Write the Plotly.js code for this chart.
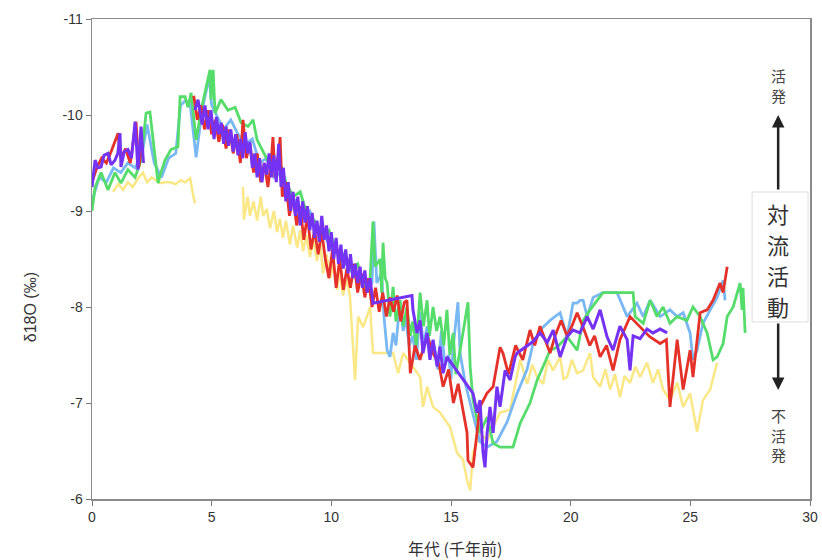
<!DOCTYPE html>
<html>
<head>
<meta charset="utf-8">
<script src="https://cdn.plot.ly/plotly-3.0.1.min.js"></script>
<style>html,body{margin:0;padding:0;background:#fff;}#chart{width:822px;height:560px;}</style>
</head>
<body>
<div id="chart"></div>
<script>
// ---- data (age in kyr BP, δ18O in ‰) ----
const yellowX = [0.88,1.1,1.3,1.5,1.7,1.9,2.13,2.3,2.5,2.84,3.05,3.26,3.5,3.7,3.89,4.1,4.2,4.3,null,
  6.31,6.35,6.5,6.6,6.75,6.9,7.05,7.15,7.3,7.44,
  7.6,7.73,7.85,7.98,8.1,8.27,8.4,8.57,8.7,8.82,
  8.95,9.11,9.25,9.4,9.55,9.65,9.8,9.95,10.1,10.24,
  10.35,10.49,10.65,10.78,10.99,11.12,
  11.33,11.62,11.74,12.04,12.58,12.79,13.0,13.29,13.71,13.83,
  14.0,14.25,14.54,14.96,15.25,15.5,15.67,15.8,15.92,16.21,
  16.51,16.76,17.05,17.47,17.89,18.18,18.4,18.6,18.85,19.05,19.26,19.56,
  19.7,19.85,20.05,20.27,20.52,20.81,20.94,21.23,21.45,21.65,21.85,22.06,22.25,22.48,22.7,22.9,
  23.19,23.44,23.65,23.86,24.15,24.45,24.7,24.99,25.28,25.53,25.83,26.12];
const yellowY = [-9.2,-9.28,-9.22,-9.3,-9.25,-9.33,-9.4,-9.3,-9.35,-9.29,-9.3,-9.3,-9.28,-9.32,-9.3,-9.34,-9.2,-9.08,null,
  -9.25,-8.91,-9.15,-8.95,-9.1,-8.9,-9.15,-8.95,-9.02,-8.82,
  -9.0,-8.78,-8.92,-8.72,-8.9,-8.65,-8.85,-8.62,-8.8,-8.58,
  -8.75,-8.52,-8.7,-8.48,-8.65,-8.35,-8.55,-8.3,-8.45,-8.18,
  -8.38,-8.12,-8.3,-8.1,-7.24,-7.9,
  -7.79,-8.0,-7.52,-7.52,-7.52,-7.31,-7.52,-7.42,-7.27,-6.96,
  -7.17,-6.96,-6.9,-6.75,-6.48,-6.41,-6.2,-6.09,-6.48,-6.69,
  -6.61,-6.75,-6.9,-6.93,-7.45,-7.2,-7.4,-7.27,-7.2,-7.45,-7.34,-7.48,
  -7.25,-7.27,-7.45,-7.31,-7.34,-7.52,-7.27,-7.17,-7.35,-7.14,-7.3,-7.06,-7.28,-7.21,-7.38,-7.27,
  -7.42,-7.21,-7.35,-7.14,-7.03,-7.21,-6.96,-7.1,-6.7,-7.03,-7.14,-7.42];

const blueX = [0,0.3,0.6,0.9,1.2,1.5,1.8,2.1,2.3,2.6,
  2.9,3.2,3.5,3.7,3.9,4.1,4.35,4.6,4.9,5.0,
  5.2,5.5,5.8,6.1,6.4,6.7,7.0,7.3,7.6,7.9,
  8.2,8.5,8.8,9.1,9.4,9.7,10.0,10.3,10.6,10.9,
  11.2,11.5,11.7,11.78,11.9,12.1,12.2,12.33,12.45,12.58,
  12.7,12.87,13.0,13.1,13.25,13.4,13.55,13.7,13.85,14.0,
  14.15,14.3,14.45,14.6,14.75,14.9,15.0,15.1,15.29,15.38,
  15.6,15.8,16.0,16.2,16.51,16.92,17.34,17.76,18.18,18.43,
  18.72,19.14,19.56,19.85,20.1,20.27,20.39,20.52,20.69,20.94,
  21.35,21.94,22.36,22.77,23.03,23.32,23.74,24.15,24.45,24.7,
  24.99,25.11,25.28,25.53,25.83,26.12,26.37,26.45];
const blueY = [-9.1,-9.35,-9.3,-9.45,-9.4,-9.5,-9.45,-9.6,-9.9,-9.5,
  -9.35,-9.55,-9.6,-10.1,-10.15,-10.12,-9.56,-10.05,-10.4,-10.1,
  -10.0,-9.85,-9.95,-9.8,-9.7,-9.75,-9.5,-9.55,-9.35,-9.4,
  -9.2,-9.1,-8.95,-9.0,-8.8,-8.75,-8.6,-8.55,-8.45,-8.35,
  -8.3,-8.2,-8.25,-8.89,-8.25,-8.35,-7.9,-7.55,-7.48,-7.73,
  -7.6,-8.07,-7.75,-7.9,-7.6,-7.7,-7.45,-7.95,-7.6,-7.8,
  -7.5,-7.6,-7.35,-7.75,-7.4,-7.5,-7.25,-7.6,-8.05,-7.52,
  -7.2,-7.0,-6.8,-6.6,-6.54,-6.6,-6.8,-7.1,-7.35,-7.62,
  -7.76,-7.86,-7.94,-7.69,-8.04,-8.04,-8.07,-8.07,-7.9,-8.1,
  -8.15,-8.15,-7.9,-8.04,-7.9,-8.07,-7.9,-7.97,-7.9,-7.94,
  -7.73,-7.45,-7.55,-7.83,-7.97,-8.1,-8.28,-8.07];

const greenX = [0,0.13,0.38,0.67,0.96,1.21,1.5,1.8,2.05,2.26,
  2.42,2.63,2.76,2.88,3.05,3.3,3.59,3.68,3.89,4.01,
  4.14,4.35,4.6,4.93,4.97,5.06,5.14,5.39,5.68,5.98,
  6.23,6.52,6.73,6.9,7.2,7.5,7.8,8.1,8.4,8.7,
  9.0,9.3,9.6,9.9,10.2,10.5,10.8,11.1,11.4,11.62,
  11.74,11.83,12.04,12.1,12.16,12.25,12.33,12.45,12.58,12.7,
  12.87,13.0,13.16,13.3,13.4,13.55,13.71,13.85,14.0,14.1,
  14.25,14.4,14.54,14.7,14.83,14.95,15.09,15.2,15.38,15.71,
  15.8,15.92,16.21,16.51,16.76,17.05,17.59,17.89,18.3,18.6,
  18.85,19.14,19.43,19.85,20.27,20.52,20.81,21.1,21.35,21.52,
  21.77,22.06,22.4,22.61,22.69,23.03,23.32,23.61,23.86,24.15,
  24.45,24.86,25.11,25.41,25.7,25.95,26.12,26.37,26.54,26.79,
  27.08,27.16,27.2,27.29];
const greenY = [-9.0,-9.25,-9.4,-9.22,-9.4,-9.29,-9.43,-9.35,-9.53,-10.02,
  -10.03,-9.53,-9.29,-9.4,-9.53,-9.64,-9.67,-10.19,-10.19,-10.08,
  -10.23,-9.74,-10.1,-10.47,-10.16,-10.47,-10.02,-10.16,-10.05,-10.08,
  -9.92,-9.88,-9.95,-9.74,-9.6,-9.45,-9.55,-9.3,-9.15,-9.2,
  -8.95,-8.9,-8.75,-8.8,-8.6,-8.55,-8.4,-8.45,-8.2,-8.3,
  -8.89,-8.42,-8.5,-8.15,-8.67,-8.3,-8.25,-7.9,-8.21,-7.85,
  -8.07,-7.8,-8.0,-7.7,-7.85,-7.6,-8.15,-7.8,-8.07,-7.7,
  -8.0,-7.75,-7.9,-7.6,-7.97,-7.5,-7.73,-7.3,-7.55,-8.05,
  -7.38,-7.03,-6.69,-6.85,-6.58,-6.54,-6.54,-6.79,-7.0,-7.24,
  -7.38,-7.55,-7.58,-7.69,-7.55,-7.86,-7.97,-8.07,-8.15,-8.15,
  -8.15,-8.15,-8.15,-8.15,-7.9,-7.83,-8.07,-7.9,-8.0,-7.83,
  -7.9,-7.86,-8.0,-7.9,-7.73,-7.45,-7.48,-7.62,-7.9,-8.0,
  -8.25,-7.97,-8.2,-7.73];

const redX = [0,0.2,0.4,0.6,0.8,1.09,1.2,1.4,1.6,1.84,1.95,2.1,null,
  4.25,4.4,4.55,4.7,4.85,5.0,5.15,5.3,5.45,5.6,
  5.75,5.9,6.05,6.2,6.31,6.45,6.6,6.75,6.9,7.05,
  7.2,7.35,7.5,7.56,7.65,7.8,7.86,7.95,8.1,8.25,
  8.4,8.55,8.7,8.85,9.0,9.15,9.3,9.45,9.6,9.75,
  9.9,10.05,10.2,10.35,10.5,10.65,10.8,10.95,11.1,11.25,
  11.4,11.55,11.7,11.85,12.0,12.15,12.3,12.45,12.6,12.75,
  12.9,13.05,13.16,
  13.3,13.5,13.7,14.0,14.25,14.5,14.67,14.9,
  15.1,15.3,15.5,15.67,15.71,15.92,16.21,16.5,16.76,17.05,
  17.17,17.4,17.7,18.0,18.3,18.5,18.72,18.95,19.14,19.35,
  19.6,19.85,20.05,20.27,20.52,20.8,21.0,21.23,21.5,21.77,
  22.06,22.48,22.9,23.3,23.74,24.0,24.15,24.45,24.7,24.99,
  25.11,25.41,25.7,25.95,26.24,26.37,26.54];
const redY = [-9.3,-9.45,-9.55,-9.5,-9.62,-9.81,-9.55,-9.65,-9.5,-9.93,-9.45,-9.7,null,
  -10.2,-9.95,-10.1,-9.85,-10.05,-9.8,-9.95,-9.72,-9.9,-9.65,
  -9.85,-9.6,-9.8,-9.5,-9.95,-9.55,-9.7,-9.4,-9.6,-9.3,
  -9.5,-9.25,-9.55,-9.77,-9.35,-9.6,-9.77,-9.15,-9.3,-8.95,
  -9.15,-8.85,-9.05,-8.7,-8.95,-8.6,-8.8,-8.55,-8.78,-8.5,
  -8.3,-8.6,-8.2,-8.5,-8.18,-8.4,-8.2,-8.45,-8.15,-8.35,
  -8.1,-8.3,-8.0,-8.2,-7.95,-8.15,-7.9,-8.1,-7.95,-8.12,
  -7.85,-8.05,-8.07,
  -7.31,-7.6,-7.45,-7.7,-7.52,-7.4,-7.17,-7.35,
  -7.0,-7.2,-6.9,-6.69,-6.4,-6.33,-6.96,-7.1,-7.17,-7.58,
  -7.52,-7.3,-7.6,-7.45,-7.76,-7.6,-7.8,-7.65,-7.52,-7.7,
  -7.86,-7.7,-7.8,-7.94,-7.79,-7.6,-7.7,-7.48,-7.6,-7.34,
  -7.66,-7.9,-7.79,-7.69,-7.62,-7.66,-6.96,-7.66,-7.14,-7.55,
  -7.27,-7.94,-7.97,-8.07,-8.25,-8.15,-8.42];

const purpleX = [0,0.13,0.25,0.38,0.5,0.67,0.8,0.96,1.08,1.17,1.21,1.35,1.5,1.65,1.8,1.92,2.05,2.15,null,
  4.3,4.43,4.6,4.72,4.85,4.97,
  5.1,5.2,5.3,5.4,5.5,5.6,5.7,5.8,5.9,6.0,
  6.1,6.2,6.3,6.4,6.5,6.6,6.7,6.8,6.9,7.0,
  7.1,7.2,7.3,7.4,7.5,7.6,7.7,7.8,7.9,8.0,
  8.1,8.2,8.3,8.4,8.5,8.6,8.7,8.8,8.9,9.0,
  9.1,9.2,9.3,9.4,9.5,9.6,9.7,9.8,9.9,10.0,
  10.1,10.2,10.3,10.4,10.5,10.6,10.7,10.8,10.9,11.0,
  11.1,11.2,11.3,11.4,11.5,11.62,11.74,
  13.37,13.41,13.58,13.71,13.83,14.0,
  14.12,14.25,14.42,14.54,14.67,14.83,15.92,16.09,16.21,16.34,
  16.42,16.51,16.63,16.76,16.92,17.05,17.26,17.47,17.68,17.76,
  18.43,18.72,19.02,19.27,19.56,19.85,20.1,20.39,20.69,20.94,
  21.23,21.52,21.77,22.06,22.36,22.48,22.61,22.9,23.19,23.44,
  23.74,24.03];
const purpleY = [-9.25,-9.53,-9.45,-9.46,-9.58,-9.6,-9.48,-9.53,-9.6,-9.81,-9.46,-9.62,-9.64,-9.55,-9.93,-9.43,-9.88,-9.5,null,
  -10.05,-10.16,-9.9,-10.1,-9.85,-10.05,
  -9.75,-9.98,-9.8,-9.92,-9.7,-9.88,-9.68,-9.85,-9.62,-9.8,
  -9.58,-9.75,-9.55,-9.82,-9.6,-9.72,-9.45,-9.6,-9.35,-9.55,
  -9.3,-9.5,-9.38,-9.6,-9.35,-9.58,-9.3,-9.7,-9.25,-9.45,
  -9.1,-9.3,-9.0,-9.2,-8.95,-9.15,-8.85,-9.1,-8.88,-9.05,
  -8.8,-8.98,-8.72,-8.9,-8.68,-8.95,-8.7,-8.85,-8.58,-8.78,
  -8.5,-8.72,-8.45,-8.65,-8.4,-8.6,-8.35,-8.55,-8.3,-8.45,
  -8.25,-8.42,-8.2,-8.38,-8.15,-8.3,-8.04,
  -8.12,-7.97,-7.73,-7.86,-7.52,-7.73,
  -7.45,-7.66,-7.38,-7.59,-7.31,-7.48,-7.1,-6.9,-7.03,-6.48,
  -6.33,-6.69,-6.96,-6.69,-7.17,-6.96,-7.34,-7.24,-7.48,-7.52,
  -7.64,-7.73,-7.63,-7.76,-7.48,-7.69,-7.76,-7.73,-7.9,-7.77,
  -7.97,-7.69,-7.55,-7.8,-7.66,-7.34,-7.7,-7.67,-7.77,-7.73,
  -7.77,-7.73];

const xTickVals = [0,5,10,15,20,25,30];
const yTickVals = [-11,-10,-9,-8,-7,-6];
const yTickText = ["-11","-10","-9","-8","-7","-6"];
const boxChars = ['対','流','活','動'];
const boxCharY = [-8.979,-8.656,-8.333,-8.010];

// ---- traces ----
function line(x, y, color, w) {
  return {x: x, y: y, type: 'scatter', mode: 'lines', connectgaps: false,
          line: {color: color, width: w}, hoverinfo: 'skip', showlegend: false};
}
const traces = [
  line(yellowX, yellowY, 'rgba(250,228,120,0.9)', 2.5),
  line(blueX, blueY, '#79b8f2', 2.8),
  line(greenX, greenY, '#55dc6a', 2.8),
  line(redX, redY, '#e4322b', 2.8),
  line(purpleX, purpleY, '#7433f2', 3)
];

const txt = '#333';
const cjk = 'Noto Sans CJK JP, sans-serif';
const annotations = [
  {xref: 'paper', yref: 'paper', x: -0.086, y: 0.40, text: 'δ18O (‰)', textangle: -90,
   showarrow: false, font: {size: 16, color: txt}, xanchor: 'center', yanchor: 'middle'},
  {xref: 'paper', yref: 'paper', x: 0.506, y: -0.102, text: '年代 (千年前)',
   showarrow: false, font: {size: 16, color: txt, family: cjk}, xanchor: 'center', yanchor: 'middle'},
  {x: 28.67, y: -10.31, text: '活<br>発', showarrow: false, font: {size: 15, color: '#444', family: cjk}},
  {x: 28.67, y: -10.0, ax: 0, ay: 76, text: '', showarrow: true, arrowhead: 2, arrowsize: 1,
   arrowwidth: 2.5, arrowcolor: '#222'},
  {x: 28.67, y: -7.135, ax: 0, ay: -68, text: '', showarrow: true, arrowhead: 2, arrowsize: 1,
   arrowwidth: 2.5, arrowcolor: '#222'},
  {x: 28.67, y: -6.667, text: '不<br>活<br>発', showarrow: false, font: {size: 15, color: '#444', family: cjk}}
];
boxChars.forEach(function (c, i) {
  annotations.push({x: 28.67, y: boxCharY[i], text: c, showarrow: false,
    font: {size: 22, color: '#333', family: cjk}});
});

const layout = {
  width: 822, height: 560,
  margin: {l: 92, r: 12, t: 19, b: 61},
  paper_bgcolor: '#fff', plot_bgcolor: '#fff',
  font: {family: 'Liberation Sans, Arial, sans-serif', color: txt, size: 14},
  xaxis: {range: [0, 30], tickvals: xTickVals, ticks: 'outside', ticklen: 5, tickcolor: '#777',
          showgrid: false, zeroline: false, showline: true, linecolor: '#8a8a8a', linewidth: 1.5,
          mirror: true, tickfont: {size: 14, color: txt}},
  yaxis: {range: [-6, -11], tickvals: yTickVals, ticktext: yTickText, ticks: 'outside', ticklen: 5,
          tickcolor: '#777', showgrid: false, zeroline: false, showline: true, linecolor: '#8a8a8a',
          linewidth: 1.5, mirror: true, tickfont: {size: 14, color: txt}},
  shapes: [
    {type: 'rect', xref: 'x', yref: 'y', x0: 27.58, x1: 29.92, y0: -9.198, y1: -7.844,
     fillcolor: '#fff', line: {color: '#ddd', width: 1}, layer: 'above'}
  ],
  annotations: annotations
};

Plotly.newPlot('chart', traces, layout, {staticPlot: true, displayModeBar: false});
</script>
</body>
</html>
